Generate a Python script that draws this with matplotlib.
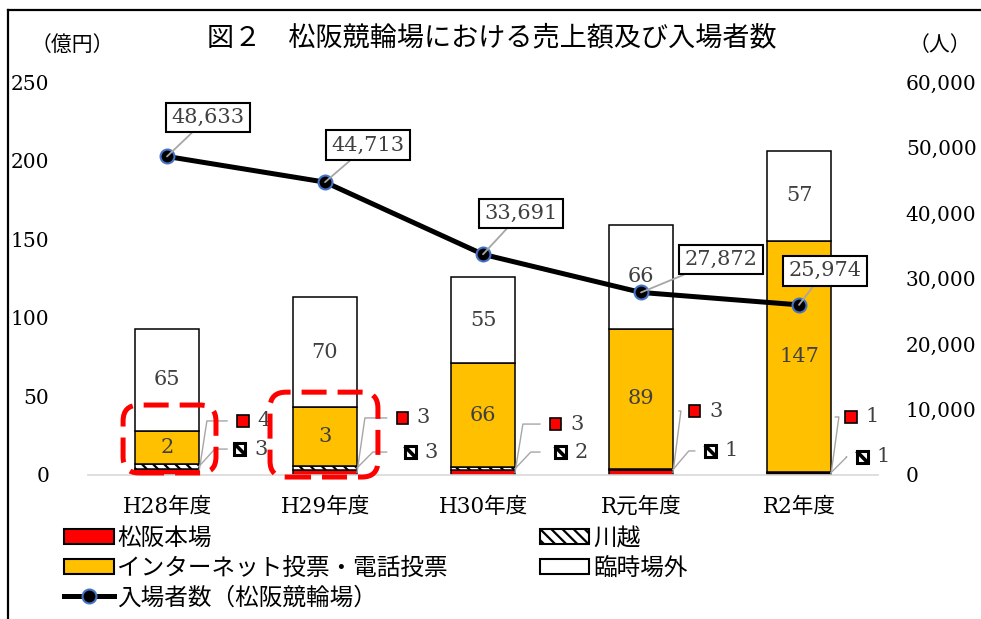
import numpy as np
import matplotlib
matplotlib.use("Agg")
import matplotlib.pyplot as plt
from matplotlib.patches import Rectangle, FancyBboxPatch, Patch
from matplotlib.lines import Line2D
from matplotlib.transforms import IdentityTransform
from matplotlib.ticker import FuncFormatter

plt.rcParams['font.family'] = ['DejaVu Serif', 'Noto Sans CJK JP']
plt.rcParams['hatch.linewidth'] = 1.6

# data
years = ['H28年度', 'H29年度', 'H30年度', 'R元年度', 'R2年度']
honjo = [4, 3, 3, 3, 1]           # 松阪本場
kawagoe = [3, 3, 2, 1, 1]         # 川越
internet = [21, 37, 66, 89, 147]  # インターネット投票・電話投票
rinji = [65, 70, 55, 66, 57]      # 臨時場外
internet_lbl = ['2', '3', '66', '89', '147']
visitors = [48633, 44713, 33691, 27872, 25974]

RED = '#FF0000'
ORANGE = '#FFC000'
GREY_TXT = '#404040'
LEADER = '#A6A6A6'

fig = plt.figure(figsize=(9.81, 6.19), dpi=100)
ax = fig.add_axes([88/981, 1-475/619, 790/981, 393/619])
ax2 = ax.twinx()

x = np.arange(len(years))
w = 0.405
b1 = np.array(honjo, float)
b2 = b1 + np.array(kawagoe)
b3 = b2 + np.array(internet)
ax.bar(x, honjo, w, color=RED, edgecolor='black', lw=1.1)
ax.bar(x, kawagoe, w, bottom=b1, color='white', edgecolor='black', lw=1.1, hatch='\\\\\\')
ax.bar(x, internet, w, bottom=b2, color=ORANGE, edgecolor='black', lw=1.1)
ax.bar(x, rinji, w, bottom=b3, color='white', edgecolor='black', lw=1.1)

# labels inside bars
for i in range(len(x)):
    ax.text(x[i], b2[i] + internet[i]/2, internet_lbl[i], ha='center', va='center',
            fontsize=15, color=GREY_TXT)
    ax.text(x[i], b3[i] + rinji[i]/2, str(rinji[i]), ha='center', va='center',
            fontsize=15, color=GREY_TXT)

# small labels for 松阪本場 / 川越 (marker x, y)
red_pos = [(0.48, 34.4), (1.49, 36.3), (2.46, 32.4), (3.34, 40.7), (4.33, 36.9)]
hat_pos = [(0.46, 16.5), (1.54, 14.6), (2.49, 14.6), (3.44, 15.3), (4.40, 11.5)]
sq_w, sq_h = 0.072, 7.4
for i in range(len(x)):
    right = x[i] + w/2
    rx, ry = red_pos[i]
    hx, hy = hat_pos[i]
    ax.add_patch(Rectangle((rx - sq_w/2, ry - sq_h/2), sq_w, sq_h, facecolor=RED,
                           edgecolor='black', lw=1.2, clip_on=False, zorder=4))
    ax.text(rx + 0.09, ry, str(honjo[i]), ha='left', va='center', fontsize=15, color=GREY_TXT)
    ax.add_patch(Rectangle((hx - sq_w/2, hy - sq_h/2), sq_w, sq_h, facecolor='white',
                           edgecolor='black', lw=2.2, clip_on=False, zorder=4))
    ax.plot([hx - sq_w/2, hx + sq_w/2], [hy + sq_h/2, hy - sq_h/2], color='black',
            lw=2.6, solid_capstyle='butt', zorder=5, clip_on=False)
    ax.text(hx + 0.09, hy, str(kawagoe[i]), ha='left', va='center', fontsize=15, color=GREY_TXT)
    # leader lines
    ax.plot([right, right + 0.05, rx - 0.1], [b1[i]/2, ry, ry], color=LEADER, lw=1, zorder=3)
    ax.plot([right, right + 0.1, rx - 0.1 if i < 3 else hx - 0.1], [b1[i] + kawagoe[i]/2, hy, hy],
            color=LEADER, lw=1, zorder=3)

ax.set_xlim(-0.5, 4.5)
ax.set_ylim(0, 250)
ax.set_yticks(range(0, 251, 50))
ax.set_xticks(x)
ax.set_xticklabels(years, fontsize=15.5)
ax.tick_params(axis='x', length=0, pad=15)
ax.tick_params(axis='y', length=0, pad=28, labelsize=14.5)
for s in ['top', 'left', 'right']:
    ax.spines[s].set_visible(False)
ax.spines['bottom'].set_color('#D9D9D9')
ax.spines['bottom'].set_linewidth(1.2)

# visitors line
ax2.plot(x, visitors, color='black', lw=3.6, marker='o', ms=10,
         markerfacecolor='black', markeredgecolor='#4472C4', mew=1.5, zorder=5)
ax2.set_ylim(0, 60000)
ax2.set_yticks(range(0, 60001, 10000))
ax2.yaxis.set_major_formatter(FuncFormatter(lambda v, p: f'{int(v):,}'))
ax2.tick_params(axis='y', length=0, pad=20, labelsize=14.5)
for s in ['top', 'left', 'right', 'bottom']:
    ax2.spines[s].set_visible(False)

offsets = [(41, 39), (43, 37), (38, 41), (80, 33), (26, 34)]
for i in range(len(x)):
    ax2.annotate(f'{visitors[i]:,}', (x[i], visitors[i]), xytext=offsets[i],
                 textcoords='offset pixels', ha='center', va='center', fontsize=15,
                 color=GREY_TXT, zorder=6,
                 bbox=dict(boxstyle='square,pad=0.25', fc='white', ec='black', lw=1.5),
                 arrowprops=dict(arrowstyle='-', color=LEADER, lw=1.3, shrinkA=0, shrinkB=0))

# red dashed highlight boxes (data coords -> pixels)
for (x0, y0, x1, y1) in [(-0.278, 1.3, 0.31, 44.5), (0.652, -1.3, 1.335, 52.7)]:
    (px0, py0), (px1, py1) = ax.transData.transform([(x0, y0), (x1, y1)])
    fig.add_artist(FancyBboxPatch((px0, py0), px1 - px0, py1 - py0,
                                  boxstyle='round,pad=0,rounding_size=16',
                                  transform=IdentityTransform(), fill=False,
                                  edgecolor=RED, lw=3.6, linestyle=(0, (5, 2.2)), zorder=10))

# texts
fig.text(492/981, 1-38/619, '図２　松阪競輪場における売上額及び入場者数', ha='center', va='center', fontsize=19.5)
fig.text(72/981, 1-45/619, '（億円）', ha='center', va='center', fontsize=15)
fig.text(940/981, 1-45/619, '（人）', ha='center', va='center', fontsize=15)

# legend
handles = [
    Patch(facecolor=RED, edgecolor='black', lw=1.5),
    Patch(facecolor=ORANGE, edgecolor='black', lw=1.5),
    Line2D([0], [0], color='black', lw=3.6, marker='o', ms=10, markerfacecolor='black',
           markeredgecolor='#4472C4', mew=1.5),
    Patch(facecolor='white', edgecolor='black', lw=1.5, hatch='\\\\\\'),
    Patch(facecolor='white', edgecolor='black', lw=1.5),
]
labels = ['松阪本場', 'インターネット投票・電話投票', '入場者数（松阪競輪場）', '川越', '臨時場外']
fig.legend(handles, labels, loc='upper left', bbox_to_anchor=(64/981, 1-527/619), ncol=2,
           frameon=False, fontsize=17, handlelength=2.1, handleheight=0.6, handletextpad=0.15,
           labelspacing=0.28, columnspacing=3.9, borderpad=0, borderaxespad=0)

# frame
fig.add_artist(Line2D([8/981, 8/981], [0, 1-10/619], color='black', lw=1.6))
fig.add_artist(Line2D([8/981, 1], [1-10/619, 1-10/619], color='black', lw=1.6))

fig.savefig('out.png', dpi=100)
